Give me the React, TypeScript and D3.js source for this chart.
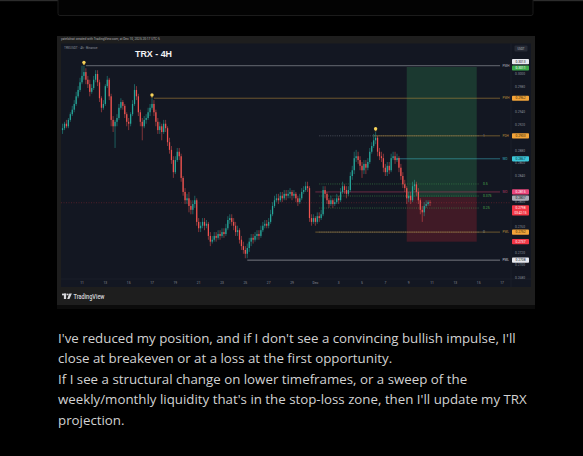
import React from "react";
import * as d3 from "d3";

// ---------- DATA ----------
const CANDLE_START = "2025-11-09T08:00:00Z";
const CANDLE_HOURS = 4;
const FIRST_OPEN = 0.2912;

const HIGHS = [
  0.2922, 0.2925, 0.2928, 0.2931, 0.294, 0.295, 0.2959, 0.2972, 0.2981, 0.2994,
  0.3013, 0.3013, 0.3009, 0.2997, 0.2991, 0.2984, 0.2997, 0.3006, 0.3006, 0.2991,
  0.2965, 0.2959, 0.2984, 0.2997, 0.2994, 0.2969, 0.2934, 0.2928, 0.2937, 0.2953,
  0.2962, 0.2959, 0.2953, 0.294, 0.2931, 0.294, 0.2959, 0.2984, 0.2981, 0.2969,
  0.2944, 0.2931, 0.2934, 0.2937, 0.2947, 0.2953, 0.2962, 0.2959, 0.2944, 0.2931,
  0.2925, 0.2922, 0.2928, 0.2928, 0.2918, 0.29, 0.2887, 0.2871, 0.2871, 0.2884,
  0.2884, 0.2875, 0.284, 0.2821, 0.2812, 0.2815, 0.2802, 0.2802, 0.2809, 0.2805,
  0.2774, 0.2768, 0.2774, 0.2774, 0.2771, 0.2768, 0.2752, 0.2746, 0.2752, 0.2752,
  0.2755, 0.2755, 0.2758, 0.2758, 0.2765, 0.2777, 0.278, 0.278, 0.2774, 0.2768,
  0.2762, 0.2758, 0.2746, 0.2737, 0.273, 0.2734, 0.2743, 0.2749, 0.2749, 0.2752,
  0.2755, 0.2755, 0.2762, 0.2768, 0.2771, 0.2771, 0.2774, 0.2787, 0.2799, 0.2809,
  0.2812, 0.2812, 0.2815, 0.2815, 0.2818, 0.2818, 0.2818, 0.2821, 0.2818, 0.2818,
  0.2815, 0.2809, 0.2812, 0.2821, 0.2824, 0.2831, 0.2831, 0.2824, 0.278, 0.278,
  0.2777, 0.2783, 0.2783, 0.2787, 0.2824, 0.2824, 0.2815, 0.2805, 0.2809, 0.2805,
  0.2805, 0.2812, 0.2809, 0.2821, 0.2831, 0.2827, 0.2824, 0.2824, 0.2846, 0.2856,
  0.2878, 0.2881, 0.2878, 0.2871, 0.2862, 0.2865, 0.2865, 0.2868, 0.2884, 0.2893,
  0.2906, 0.2909, 0.2903, 0.2884, 0.2878, 0.2875, 0.2859, 0.2862, 0.2862, 0.2875,
  0.2878, 0.2878, 0.2875, 0.2871, 0.2859, 0.2846, 0.2834, 0.2824, 0.2815, 0.2815,
  0.2831, 0.2834, 0.2831, 0.2821, 0.2805, 0.2793, 0.2799, 0.2802, 0.2802, 0.2802,
];

const LOWS = [
  0.2906, 0.2912, 0.2915, 0.2915, 0.2925, 0.2934, 0.294, 0.295, 0.2962, 0.2972,
  0.2984, 0.2991, 0.2984, 0.2978, 0.2965, 0.2969, 0.2975, 0.2987, 0.2981, 0.2956,
  0.294, 0.2944, 0.295, 0.2978, 0.2959, 0.2918, 0.2909, 0.2884, 0.2918, 0.2928,
  0.2944, 0.2944, 0.2931, 0.2918, 0.2912, 0.2918, 0.2934, 0.295, 0.2959, 0.2934,
  0.2918, 0.2896, 0.2915, 0.2922, 0.2928, 0.2934, 0.2944, 0.2934, 0.2918, 0.2906,
  0.2906, 0.2896, 0.2906, 0.2909, 0.2887, 0.2875, 0.2859, 0.2837, 0.2843, 0.2862,
  0.2865, 0.2831, 0.2809, 0.2796, 0.2796, 0.2783, 0.278, 0.278, 0.279, 0.2762,
  0.2752, 0.2752, 0.2758, 0.2755, 0.2758, 0.274, 0.273, 0.2734, 0.2737, 0.2737,
  0.274, 0.274, 0.2743, 0.2743, 0.2746, 0.2755, 0.2765, 0.2762, 0.2755, 0.2746,
  0.2746, 0.2734, 0.2724, 0.2718, 0.2711, 0.2711, 0.2721, 0.273, 0.2734, 0.2737,
  0.274, 0.274, 0.2743, 0.2752, 0.2758, 0.2758, 0.2758, 0.2765, 0.2777, 0.279,
  0.2799, 0.2796, 0.2799, 0.2799, 0.2802, 0.2802, 0.2805, 0.2805, 0.2802, 0.2805,
  0.2799, 0.2793, 0.2796, 0.2802, 0.2812, 0.2815, 0.2815, 0.2768, 0.2762, 0.2765,
  0.2762, 0.2765, 0.2768, 0.2771, 0.2777, 0.2805, 0.2796, 0.279, 0.2793, 0.279,
  0.2793, 0.2796, 0.2796, 0.2799, 0.2812, 0.2812, 0.2805, 0.2809, 0.2815, 0.2834,
  0.2843, 0.2862, 0.2859, 0.2849, 0.2837, 0.2843, 0.2843, 0.2849, 0.2859, 0.2875,
  0.2884, 0.289, 0.2871, 0.2865, 0.2862, 0.2846, 0.284, 0.284, 0.2843, 0.2846,
  0.2865, 0.2859, 0.2862, 0.2846, 0.2834, 0.2821, 0.2815, 0.2796, 0.2799, 0.2796,
  0.2799, 0.2818, 0.2809, 0.2796, 0.278, 0.2768, 0.2777, 0.279, 0.2793, 0.2793,
];

const CLOSES = [
  0.2915, 0.2922, 0.2918, 0.2928, 0.2937, 0.2944, 0.2953, 0.2965, 0.2975, 0.2987,
  0.2997, 0.3003, 0.2991, 0.2984, 0.2972, 0.2978, 0.2991, 0.3, 0.2987, 0.2962,
  0.2947, 0.2953, 0.2981, 0.2991, 0.2965, 0.2928, 0.2918, 0.2925, 0.2931, 0.2947,
  0.2956, 0.295, 0.2937, 0.2925, 0.2922, 0.2937, 0.2953, 0.2975, 0.2965, 0.294,
  0.2925, 0.2918, 0.2928, 0.2931, 0.294, 0.2947, 0.2953, 0.294, 0.2925, 0.2912,
  0.2918, 0.2909, 0.2922, 0.2915, 0.2893, 0.2881, 0.2865, 0.2846, 0.2865, 0.2878,
  0.2871, 0.2837, 0.2815, 0.2802, 0.2805, 0.2793, 0.2787, 0.2796, 0.2802, 0.2768,
  0.2758, 0.2762, 0.2768, 0.2762, 0.2765, 0.2746, 0.2737, 0.274, 0.2746, 0.2743,
  0.2749, 0.2746, 0.2752, 0.2749, 0.2758, 0.2771, 0.2774, 0.2768, 0.2762, 0.2752,
  0.2755, 0.274, 0.273, 0.2724, 0.2718, 0.2727, 0.2737, 0.2743, 0.274, 0.2746,
  0.2749, 0.2746, 0.2755, 0.2762, 0.2765, 0.2762, 0.2768, 0.278, 0.2793, 0.2802,
  0.2805, 0.2802, 0.2809, 0.2805, 0.2812, 0.2809, 0.2812, 0.2815, 0.2809, 0.2812,
  0.2805, 0.2799, 0.2805, 0.2815, 0.2818, 0.2824, 0.2821, 0.2774, 0.2768, 0.2774,
  0.2768, 0.2777, 0.2774, 0.278, 0.2818, 0.2812, 0.2802, 0.2796, 0.2802, 0.2796,
  0.2799, 0.2805, 0.2802, 0.2815, 0.2824, 0.2818, 0.2812, 0.2818, 0.284, 0.2849,
  0.2868, 0.2871, 0.2865, 0.2856, 0.2849, 0.2859, 0.2853, 0.2862, 0.2878, 0.2887,
  0.2896, 0.29, 0.2878, 0.2871, 0.2868, 0.2853, 0.2846, 0.2856, 0.2849, 0.2868,
  0.2871, 0.2865, 0.2868, 0.2853, 0.284, 0.2827, 0.2821, 0.2805, 0.2809, 0.2802,
  0.2824, 0.2827, 0.2815, 0.2802, 0.2787, 0.2783, 0.2793, 0.2796, 0.2799, 0.2798,
];

const PRICE_TICKS = [
  0.3, 0.298, 0.296, 0.294, 0.292, 0.29, 0.288, 0.286, 0.284, 0.282, 0.28, 0.278,
  0.276, 0.274, 0.272, 0.27, 0.268,
];

const TIME_TICKS = [
  "2025-11-11", "2025-11-13", "2025-11-15", "2025-11-17", "2025-11-19", "2025-11-21",
  "2025-11-23", "2025-11-25", "2025-11-27", "2025-11-29", "2025-12-01", "2025-12-03",
  "2025-12-05", "2025-12-07", "2025-12-09", "2025-12-11", "2025-12-13", "2025-12-15",
  "2025-12-17",
];
const TIME_TICK_LABELS = [
  "11", "13", "15", "17", "19", "21", "23", "25", "27", "29", "Dec", "3", "5", "7", "9",
  "11", "13", "15", "17",
];

// key levels: name, price, start time
const LEVEL_NAMES = ["PMH", "PWH", "PDH", "WO", "MO", "PWL", "PML"];
const LEVEL_PRICES = [0.3013, 0.2962, 0.2903, 0.2867, 0.2815, 0.2752, 0.2708];
const LEVEL_STARTS = [
  "2025-11-11T08:00:00Z", "2025-11-17T04:00:00Z", "2025-12-06T00:00:00Z",
  "2025-12-08T00:00:00Z", "2025-12-01T00:00:00Z", "2025-12-01T00:00:00Z",
  "2025-11-25T04:00:00Z",
];
const LEVEL_END = "2025-12-16T20:00:00Z";

// fib retracement
const FIB_HIGH = 0.2903;
const FIB_LOW = 0.2752;
const FIB_RATIOS = [1, 0.5, 0.375, 0.25, 0];
const FIB_LABELS = ["1", "0.5", "0.375", "0.25", "0"];
const FIB_START = "2025-12-01T08:00:00Z";
const FIB_END = "2025-12-15T00:00:00Z";

// long position
const POS_START = "2025-12-08T20:00:00Z";
const POS_END = "2025-12-14T20:00:00Z";
const POS_TP = 0.3011;
const POS_ENTRY = 0.2807;
const POS_SL = 0.2737;

// markers (candle index of the highs marked)
const MARKER_CANDLES = [11, 46, 161];

const TEXT_LINES = [
  "I've reduced my position, and if I don't see a convincing bullish impulse, I'll",
  "close at breakeven or at a loss at the first opportunity.",
  "If I see a structural change on lower timeframes, or a sweep of the",
  "weekly/monthly liquidity that's in the stop-loss zone, then I'll update my TRX",
  "projection.",
];

// ---------- STYLE ----------
const UP = "#26a69a";
const DOWN = "#ef5350";
const LEVEL_COLORS = ["#a9acb4", "#b48a3a", "#b48a3a", "#3aaebe", "#b03a60", "#b48a3a", "#c2c4ca"];
const BOX_STYLES: Record<string, { bg: string; fg: string }> = {
  PMH: { bg: "#e6e8ee", fg: "#131722" },
  PWH: { bg: "#f2a43a", fg: "#3a2400" },
  PDH: { bg: "#f2a43a", fg: "#3a2400" },
  WO: { bg: "#3cc6d8", fg: "#0b2a30" },
  MO: { bg: "#e8457a", fg: "#ffffff" },
  PWL: { bg: "#f2a43a", fg: "#3a2400" },
  PML: { bg: "#e6e8ee", fg: "#131722" },
};
const BOX_NUDGE: Record<string, number> = { PMH: -4, TP: 1, ENTRY: 1, CUR: 5 };

export default function App() {
  const W = 583;
  const H = 456;
  const plotL = 61;
  const plotR = 511;

  const x = d3
    .scaleUtc()
    .domain([new Date("2025-11-11T00:00:00Z"), new Date("2025-12-17T00:00:00Z")])
    .range([82, 502]);
  const y = d3.scaleLinear().domain([0.3, 0.268]).range([74, 278]);

  const t0 = new Date(CANDLE_START).getTime();
  const candles = CLOSES.map((c, i) => ({
    t: new Date(t0 + i * CANDLE_HOURS * 3600 * 1000),
    o: i === 0 ? FIRST_OPEN : CLOSES[i - 1],
    h: HIGHS[i],
    l: LOWS[i],
    c,
  }));
  const bw = 1.25;
  const last = candles[candles.length - 1];
  const lastPrice = last.c;

  const boxX = 512;
  const boxW = 17;
  const boxH = 5.2;

  const boxes: { key: string; price: number; text: string; bg: string; fg: string; sub?: string }[] = [];
  LEVEL_NAMES.forEach((n, i) =>
    boxes.push({ key: n, price: LEVEL_PRICES[i], text: LEVEL_PRICES[i].toFixed(4), ...BOX_STYLES[n] })
  );
  boxes.push({ key: "TP", price: POS_TP, text: POS_TP.toFixed(4), bg: "#3aa84a", fg: "#ffffff" });
  boxes.push({ key: "ENTRY", price: POS_ENTRY, text: POS_ENTRY.toFixed(4), bg: "#a9acb5", fg: "#131722" });
  boxes.push({ key: "SL", price: POS_SL, text: POS_SL.toFixed(4), bg: "#f23645", fg: "#ffffff" });
  boxes.push({ key: "CUR", price: lastPrice, text: lastPrice.toFixed(4), bg: "#f23645", fg: "#ffffff", sub: "03:42:15" });

  const boxYs = boxes.map((b) => y(b.price) + (BOX_NUDGE[b.key] || 0));
  const visibleTicks = PRICE_TICKS.filter((p) => boxYs.every((by) => Math.abs(by - y(p)) > 3.4));

  const fibY = (r: number) => y(FIB_LOW + r * (FIB_HIGH - FIB_LOW));
  const chartFont = "Roboto, 'Liberation Sans', sans-serif";

  return (
    <svg
      width={W}
      height={H}
      viewBox={`0 0 ${W} ${H}`}
      style={{ position: "fixed", left: 0, top: 0, display: "block" }}
    >
      <rect x={0} y={0} width={W} height={H} fill="#000" />
      <rect x={0} y={0} width={W} height={1.2} fill="#2c2c2c" />
      <rect x={58} y={-4} width={475} height={19.5} fill="#030303" stroke="#1b1b1b" strokeWidth={1} rx={2} />

      {/* screenshot frame */}
      <rect x={57} y={36} width={478} height={269} fill="#1e1e1e" />
      <rect x={57} y={305} width={478} height={4} fill="#0b0b0b" />
      <text x={61} y={40.2} fontSize={3.2} fill="#b0b0b0" fontFamily={chartFont}>
        yatelolnat created with TradingView.com, at Dec 10, 2025 20:17 UTC-5
      </text>
      <rect x={plotL} y={43.5} width={531 - plotL} height={287 - 43.5} fill="#131722" />
      <line x1={plotL} x2={531} y1={279} y2={279} stroke="#1f2330" strokeWidth={0.6} />
      <line x1={plotR} x2={plotR} y1={43.5} y2={287} stroke="#1f2330" strokeWidth={0.6} />

      <text x={64} y={48.5} fontSize={3.2} fill="#8a8e99" fontFamily={chartFont}>
        TRXUSDT · 4h · Binance
      </text>
      <rect x={514.5} y={45.5} width={13} height={6} rx={1} fill="#262a35" />
      <text x={521} y={49.6} fontSize={2.8} fill="#b2b5be" textAnchor="middle" fontFamily={chartFont}>
        USDT
      </text>
      <text
        x={135}
        y={57}
        fontSize={9.5}
        fontWeight="bold"
        fill="#f2f3f5"
        fontFamily="'Liberation Sans', Arial, sans-serif"
        textLength={37}
        lengthAdjust="spacingAndGlyphs"
      >
        TRX - 4H
      </text>

      {/* long position */}
      <rect
        x={x(new Date(POS_START))}
        y={y(POS_TP)}
        width={x(new Date(POS_END)) - x(new Date(POS_START))}
        height={y(POS_ENTRY) - y(POS_TP)}
        fill="#245c3e"
        opacity={0.5}
      />
      <rect
        x={x(new Date(POS_START))}
        y={y(POS_ENTRY)}
        width={x(new Date(POS_END)) - x(new Date(POS_START))}
        height={y(POS_SL) - y(POS_ENTRY)}
        fill="#661e2a"
        opacity={0.55}
      />

      {/* current price line */}
      <line
        x1={plotL}
        x2={plotR}
        y1={y(lastPrice)}
        y2={y(lastPrice)}
        stroke="#f23645"
        strokeOpacity={0.45}
        strokeWidth={0.6}
        strokeDasharray="1 1.5"
      />

      {/* fib */}
      {FIB_RATIOS.map((r, i) => {
        const col = r === 0 || r === 1 ? "#6f737e" : "#3f8f4a";
        return (
          <g key={"fib" + i}>
            <line
              x1={x(new Date(FIB_START))}
              x2={x(new Date(FIB_END))}
              y1={fibY(r)}
              y2={fibY(r)}
              stroke={col}
              strokeWidth={0.6}
              strokeDasharray="1 1.2"
            />
            <text x={483} y={fibY(r) + 1.2} fontSize={3.4} fill={r === 0 || r === 1 ? "#8a8e99" : "#4caf50"} fontFamily={chartFont}>
              {FIB_LABELS[i]}
            </text>
          </g>
        );
      })}

      {/* key levels */}
      {LEVEL_NAMES.map((n, i) => (
        <g key={n}>
          <line
            x1={x(new Date(LEVEL_STARTS[i]))}
            x2={x(new Date(LEVEL_END))}
            y1={y(LEVEL_PRICES[i])}
            y2={y(LEVEL_PRICES[i])}
            stroke={LEVEL_COLORS[i]}
            strokeWidth={0.8}
            strokeOpacity={0.7}
          />
          <text x={502.5} y={y(LEVEL_PRICES[i]) + 1.2} fontSize={3.2} fill={LEVEL_COLORS[i]} fontFamily={chartFont}>
            {n}
          </text>
        </g>
      ))}

      {/* candles */}
      {candles.map((d, i) => {
        const cx = x(d.t);
        const col = d.c >= d.o ? UP : DOWN;
        const top = y(Math.max(d.o, d.c));
        const bot = y(Math.min(d.o, d.c));
        return (
          <g key={i}>
            <line x1={cx} x2={cx} y1={y(d.h)} y2={y(d.l)} stroke={col} strokeWidth={0.5} />
            <rect x={cx - bw / 2} y={top} width={bw} height={Math.max(0.6, bot - top)} fill={col} />
          </g>
        );
      })}

      {/* markers */}
      {MARKER_CANDLES.map((idx) => {
        const cx = x(candles[idx].t);
        const cy = y(candles[idx].h) - 3.2;
        return (
          <g key={"m" + idx}>
            <circle cx={cx} cy={cy} r={1.7} fill="#f7d35a" />
            <rect x={cx - 0.8} y={cy + 1.2} width={1.6} height={1.2} fill="#c9a640" />
          </g>
        );
      })}

      {/* price axis */}
      {visibleTicks.map((p) => (
        <text key={"pt" + p} x={520} y={y(p) + 1.2} fontSize={3.3} fill="#8a8e99" textAnchor="middle" fontFamily={chartFont}>
          {p.toFixed(4)}
        </text>
      ))}
      {boxes.map((b, i) => {
        const cy = boxYs[i];
        const h = b.sub ? boxH * 2 : boxH;
        const top = cy - boxH / 2;
        return (
          <g key={"box" + b.key}>
            <rect x={boxX} y={top} width={boxW} height={h} rx={0.8} fill={b.bg} />
            <text x={boxX + boxW / 2} y={cy + 1.2} fontSize={3.3} fill={b.fg} textAnchor="middle" fontFamily={chartFont}>
              {b.text}
            </text>
            {b.sub && (
              <text x={boxX + boxW / 2} y={cy + boxH + 1.2} fontSize={3.1} fill={b.fg} textAnchor="middle" fontFamily={chartFont}>
                {b.sub}
              </text>
            )}
          </g>
        );
      })}

      {/* time axis */}
      {TIME_TICKS.map((d, i) => (
        <text
          key={"tt" + i}
          x={x(new Date(d + "T00:00:00Z"))}
          y={284.3}
          fontSize={3.3}
          fill="#8a8e99"
          textAnchor="middle"
          fontFamily={chartFont}
        >
          {TIME_TICK_LABELS[i]}
        </text>
      ))}

      {/* footer logo */}
      <g fill="#d8d9dc">
        <rect x={62} y={293.6} width={4.4} height={1.7} />
        <rect x={63.9} y={293.6} width={2.2} height={5.4} />
        <circle cx={67.8} cy={294.4} r={0.85} />
        <polygon points="69.3,293.6 71.9,293.6 69.4,299 67.2,299" />
      </g>
      <text
        x={73.5}
        y={298.8}
        fontSize={6.4}
        fill="#d8d9dc"
        fontFamily="Roboto, 'Liberation Sans', sans-serif"
        fontWeight={500}
        textLength={31}
        lengthAdjust="spacingAndGlyphs"
      >
        TradingView
      </text>

      {/* paragraph */}
      {TEXT_LINES.map((t, i) => (
        <text
          key={"tl" + i}
          x={58}
          y={343 + i * 20.4}
          fontSize={13.3}
          fill="#d2d2d2"
          fontFamily="'Open Sans', 'Noto Sans', sans-serif"
        >
          {t}
        </text>
      ))}
    </svg>
  );
}
